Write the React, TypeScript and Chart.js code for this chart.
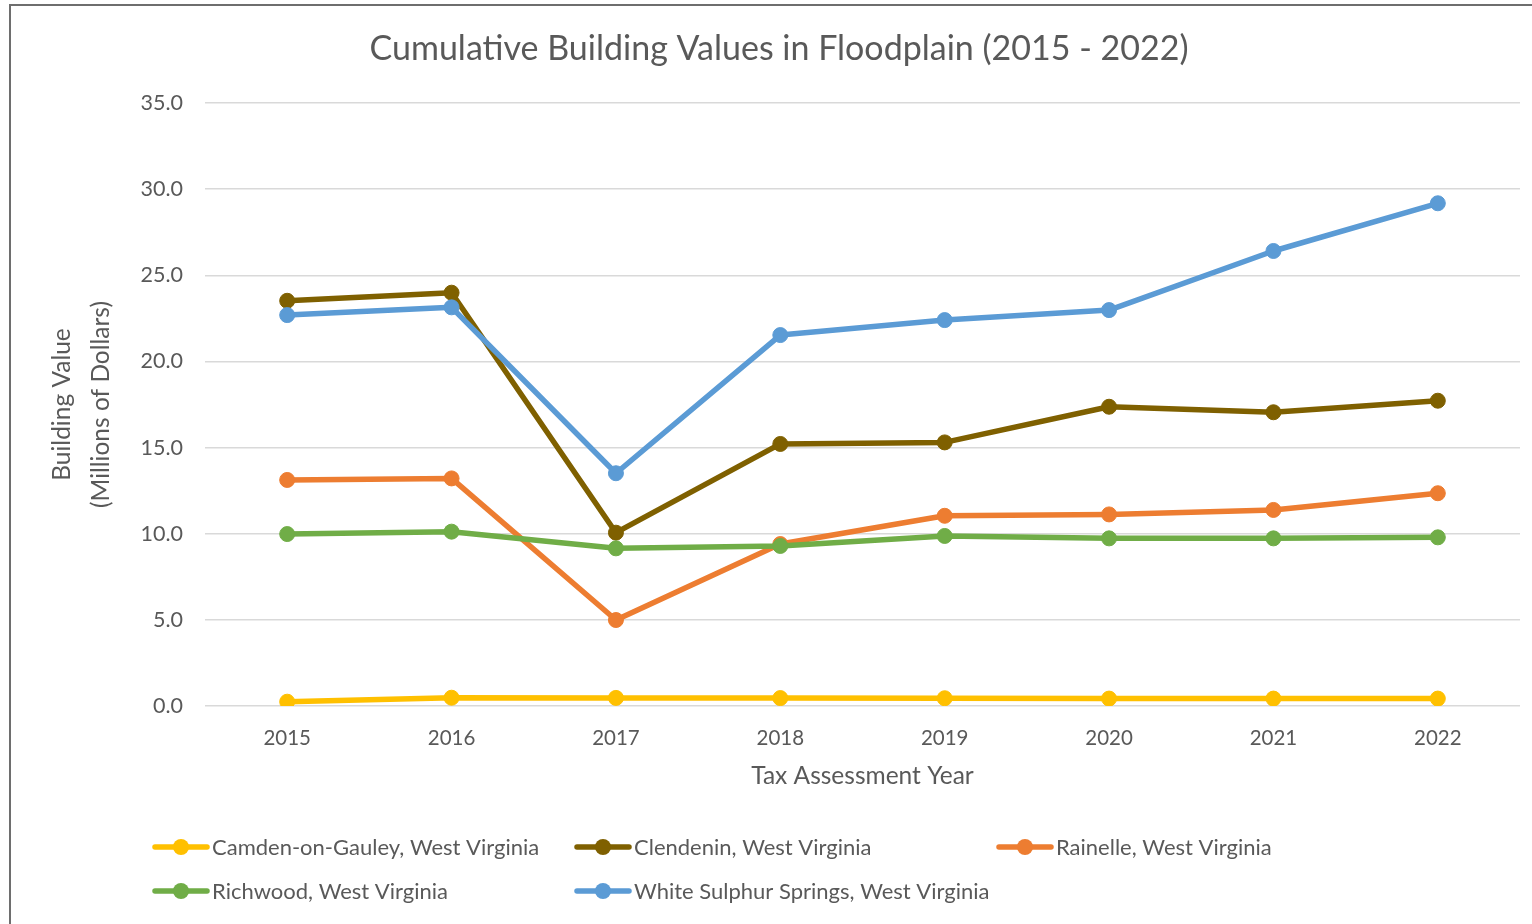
import React, { useEffect, useRef } from "react";
import { Chart, registerables } from "chart.js";

Chart.register(...registerables);

const years = ["2015", "2016", "2017", "2018", "2019", "2020", "2021", "2022"];
const camden = [0.25, 0.48, 0.47, 0.46, 0.45, 0.43, 0.43, 0.43];
const clendenin = [23.52, 23.99, 10.06, 15.21, 15.3, 17.37, 17.05, 17.72];
const rainelle = [13.12, 13.21, 4.99, 9.4, 11.04, 11.12, 11.38, 12.35];
const richwood = [9.98, 10.12, 9.15, 9.29, 9.87, 9.73, 9.73, 9.79];
const whiteSulphur = [22.69, 23.14, 13.51, 21.53, 22.4, 22.98, 26.41, 29.18];

const seriesNames = [
  "Camden-on-Gauley, West Virginia",
  "Clendenin, West Virginia",
  "Rainelle, West Virginia",
  "Richwood, West Virginia",
  "White Sulphur Springs, West Virginia",
];
const seriesValues = [camden, clendenin, rainelle, richwood, whiteSulphur];
const seriesColors = ["#FFC000", "#7F6000", "#ED7D31", "#70AD47", "#5B9BD5"];

const titleText = "Cumulative Building Values in Floodplain (2015 - 2022)";
const yTitle = ["Building Value", "(Millions of Dollars)"];
const xTitle = "Tax Assessment Year";

const FONT = "Lato, 'Open Sans', sans-serif";
const TEXT = "#595959";

const gridLegend = {
  id: "gridLegend",
  afterDraw(chart: any) {
    const ctx = chart.ctx;
    const area = chart.chartArea;
    const x0 = area.left - 52;
    const colW = 422;
    const rows = [area.bottom + 141, area.bottom + 185];
    ctx.save();
    ctx.font = `22px ${FONT}`;
    ctx.textBaseline = "middle";
    ctx.textAlign = "left";
    chart.data.datasets.forEach((ds: any, i: number) => {
      const col = i % 3;
      const row = Math.floor(i / 3);
      const x = x0 + col * colW;
      const y = rows[row];
      ctx.strokeStyle = ds.borderColor;
      ctx.lineWidth = 5.5;
      ctx.lineCap = "round";
      ctx.beginPath();
      ctx.moveTo(x + 2, y);
      ctx.lineTo(x + 54, y);
      ctx.stroke();
      ctx.fillStyle = ds.borderColor;
      ctx.beginPath();
      ctx.arc(x + 28, y, 8, 0, Math.PI * 2);
      ctx.fill();
      ctx.fillStyle = TEXT;
      ctx.fillText(ds.label, x + 59, y + 1);
    });
    ctx.restore();
  },
};

export default function App() {
  const ref = useRef<HTMLCanvasElement | null>(null);
  useEffect(() => {
    if (!ref.current) return;
    const chart = new Chart(ref.current, {
      type: "line",
      data: {
        labels: years,
        datasets: seriesValues.map((vals, i) => ({
          label: seriesNames[i],
          data: vals,
          borderColor: seriesColors[i],
          backgroundColor: seriesColors[i],
          pointBackgroundColor: seriesColors[i],
          pointBorderColor: seriesColors[i],
          borderWidth: 5.5,
          pointRadius: 7.5,
          pointBorderWidth: 1,
          borderJoinStyle: "round" as const,
          borderCapStyle: "round" as const,
          tension: 0,
          order: seriesValues.length - 1 - i,
        })),
      },
      options: {
        responsive: false,
        animation: false,
        layout: { padding: { left: 27, right: 51, top: 0, bottom: 130 } },
        plugins: {
          legend: { display: false },
          tooltip: { enabled: false },
          title: {
            display: true,
            text: titleText,
            color: TEXT,
            font: { family: FONT, size: 34, weight: "normal", lineHeight: 1.2 },
            padding: { top: 22.6, bottom: 33.6 },
          },
        },
        scales: {
          x: {
            type: "category",
            offset: true,
            grid: { display: false, drawTicks: false },
            border: { display: false },
            ticks: {
              color: TEXT,
              font: { family: FONT, size: 20.5 },
              padding: 20,
              maxRotation: 0,
            },
            title: {
              display: true,
              text: xTitle,
              color: TEXT,
              font: { family: FONT, size: 24.5, lineHeight: 1.2 },
              padding: { top: 0, bottom: 15.3 },
            },
            afterFit: (s: any) => {
              s.height = 100;
            },
          },
          y: {
            min: 0,
            max: 35,
            grid: { color: "#D9D9D9", lineWidth: 1.5, drawTicks: false },
            border: { display: false },
            ticks: {
              stepSize: 5,
              color: TEXT,
              font: { family: FONT, size: 21.5 },
              padding: 22,
              callback: (v: any) => Number(v).toFixed(1),
            },
            title: {
              display: true,
              text: yTitle,
              color: TEXT,
              font: { family: FONT, size: 24.5, lineHeight: "39px" },
              padding: { top: 4.5, bottom: 0 },
            },
            afterFit: (s: any) => {
              s.width = 167;
            },
          },
        },
      },
      plugins: [gridLegend],
    });
    return () => chart.destroy();
  }, []);

  return (
    <div
      style={{
        position: "fixed",
        left: 9,
        top: 4,
        width: 1560,
        height: 930,
        border: "2px solid #6E6E6E",
        background: "#FFFFFF",
      }}
    >
      <canvas ref={ref} width={1560} height={930} style={{ display: "block" }} />
    </div>
  );
}
